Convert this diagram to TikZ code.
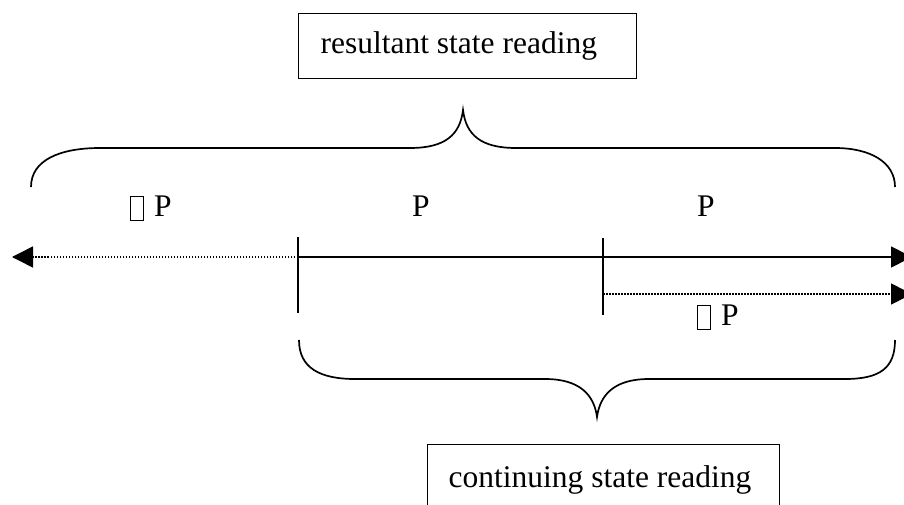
\documentclass[tikz,border=0pt]{standalone}
\usepackage{fontspec}
\setmainfont{Liberation Serif}
\usetikzlibrary{arrows.meta}

% hollow placeholder glyph as it appears in the labels
\newcommand{\hollowglyph}{\raisebox{-4pt}{\setlength{\fboxrule}{1.2pt}\setlength{\fboxsep}{0pt}\fbox{\rule{0pt}{22.6pt}\hspace{11.6pt}}}}

\begin{document}
\begin{tikzpicture}[x=1pt,y=-1pt,
  every node/.style={font=\fontsize{31.5}{36}\selectfont},
  labelbox/.style={draw,line width=1.3pt,inner ysep=0pt,inner xsep=0pt,align=flush left,anchor=north west},
  thinline/.style={line width=1.6pt},
  dotline/.style={line width=1.5pt,dash pattern=on 1.5pt off 1.5pt},
  bracepath/.style={line width=1.7pt},
  tip/.style={-{Triangle[length=21pt,width=21pt]}},
  word/.style={anchor=base west,inner sep=0pt}]
\clip (0,0) rectangle (904,505);
\fill[white] (0,0) rectangle (904,505);

% reading boxes
\node[labelbox,text width=338pt,minimum height=65pt] (res) at (298,13) {\hspace*{22pt}resultant state reading};
\node[labelbox,text width=352pt,minimum height=71pt] (cont) at (427,444) {\hspace*{21pt}continuing state reading};

% time line anchors
\coordinate (lefttip) at (12,257);
\coordinate (t1) at (298,257);
\coordinate (t2) at (603,257);
\coordinate (righttip) at (912,257);
\coordinate (t2low) at (603,294);
\coordinate (righttiplow) at (912,294);
\coordinate (t1top) at (298,237);
\coordinate (t1bot) at (298,313);
\coordinate (t2top) at (603,238);
\coordinate (t2bot) at (603,315);

% time lines
\draw[dotline,tip] (t1) -- (lefttip);
\draw[thinline,tip] (t1) -- (righttip);
\draw[dotline,tip] (t2low) -- (righttiplow);
\draw[thinline] (t1top) -- (t1bot);
\draw[thinline] (t2top) -- (t2bot);

% upper brace
\coordinate (ub1) at (31,187);
\coordinate (ubc) at (463,110);
\coordinate (ub2) at (895,187);
\draw[bracepath] (ub1) .. controls (31,160) and (60,148) .. (100,148)
  -- (410,148) .. controls (445,148) and (460,135) .. (ubc)
  .. controls (466,135) and (481,148) .. (516,148)
  -- (835,148) .. controls (870,148) and (895,162) .. (ub2);

% lower brace
\coordinate (lb1) at (299,340);
\coordinate (lbc) at (597,417);
\coordinate (lb2) at (895,340);
\draw[bracepath] (lb1) .. controls (299,368) and (320,379) .. (355,379)
  -- (545,379) .. controls (580,379) and (594,395) .. (lbc)
  .. controls (600,395) and (614,379) .. (649,379)
  -- (845,379) .. controls (880,379) and (895,368) .. (lb2);

% interval labels
\node[word] (np1) at (130,216) {\hollowglyph\hspace{10pt}P};
\node[word] (p1) at (412,216) {P};
\node[word] (p2) at (697,216) {P};
\node[word] (np2) at (697,325) {\hollowglyph\hspace{10pt}P};
\end{tikzpicture}
\end{document}
